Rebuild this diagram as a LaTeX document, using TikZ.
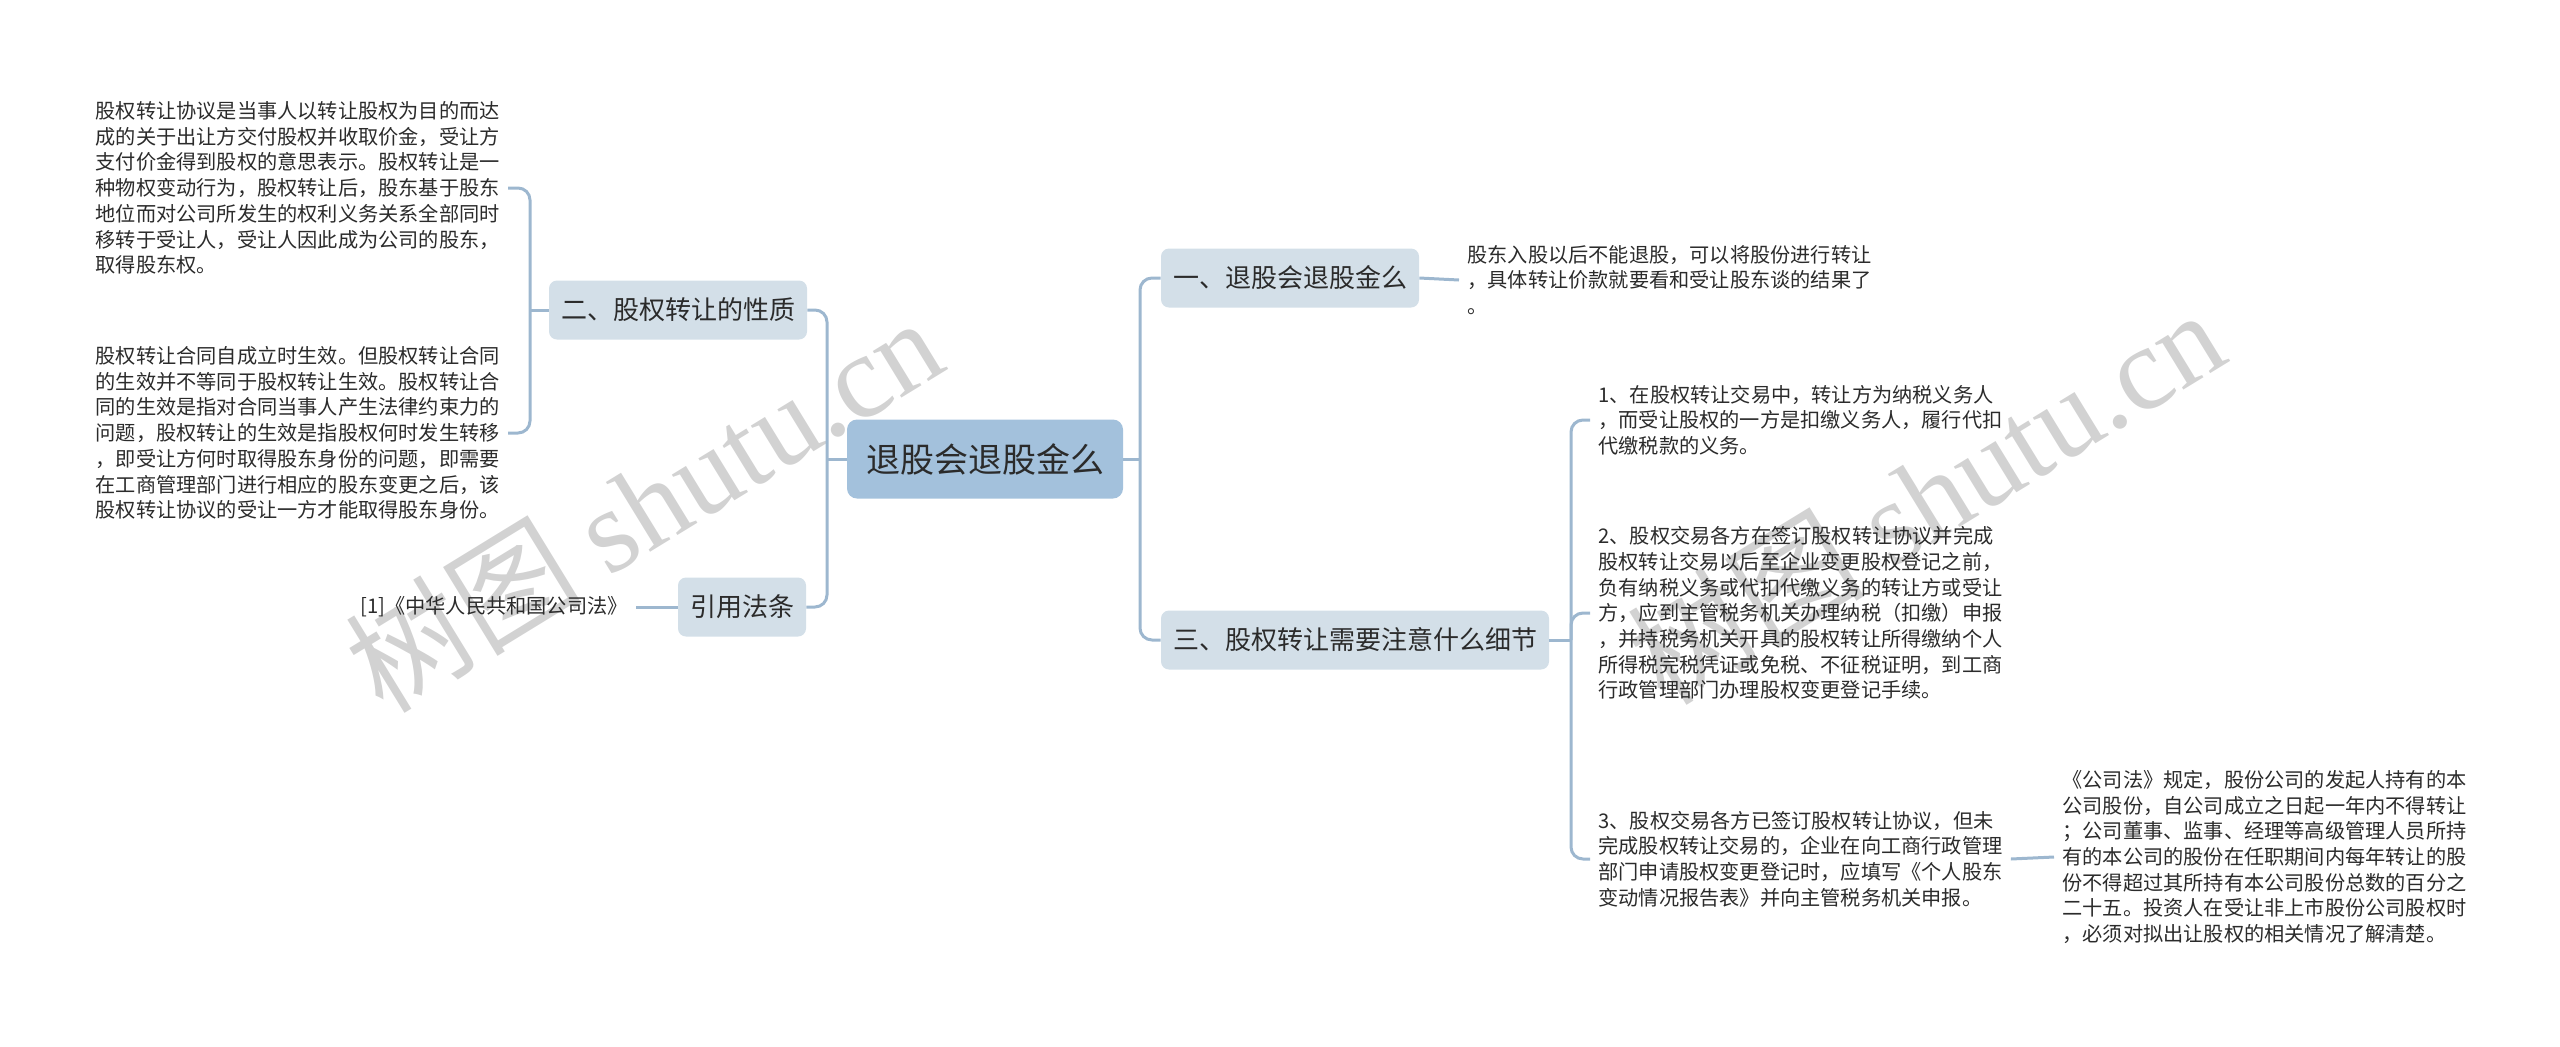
\documentclass[tikz,border=0pt]{standalone}
\usepackage{fontspec}
\setmainfont{Noto Sans CJK SC}
\newfontfamily\markfont{Liberation Serif}
\definecolor{mapink}{HTML}{2B2B2B}
\definecolor{maproot}{HTML}{A3C1DC}
\definecolor{mapbranch}{HTML}{D3DFE8}
\definecolor{mapline}{HTML}{9DB7CF}
\definecolor{mapmark}{HTML}{D2D2D2}

\begin{document}
\begin{tikzpicture}[
  x=0.5pt,
  y=-0.5pt,
  every node/.style={text=mapink},
  rootbox/.style={fill=maproot, rounded corners=5pt, inner xsep=9.5pt,
    minimum height=39.5pt, font=\fontsize{17}{20}\selectfont},
  branchbox/.style={fill=mapbranch, rounded corners=4pt, inner xsep=6pt,
    minimum height=29.5pt, font=\fontsize{13}{16}\selectfont},
  leaftext/.style={align=left, inner xsep=4pt, inner ysep=0pt,
    font=\fontsize{10.1}{12.85}\selectfont},
  link/.style={mapline, line width=1.5pt, rounded corners=6pt},
  watermark/.style={text=mapmark, rotate=31.5, anchor=base west, inner sep=0pt,
    font=\fontsize{59.5}{60}\selectfont}
]
\useasboundingbox (0,0) rectangle (2560,1046);

% =====================================================================
% watermark
% =====================================================================
\node[watermark] (markone) at (383,716) {树图 {\markfont shutu.cn}};
\node[watermark] (marktwo) at (1665,708) {树图 {\markfont shutu.cn}};

% =====================================================================
% root and branches
% =====================================================================
\node[rootbox] (root) at (985,459) {退股会退股金么};

\node[branchbox] (nature) at (678,310) {二、股权转让的性质};
\node[branchbox] (cite) at (742,607) {引用法条};
\node[branchbox] (refund) at (1290,278) {一、退股会退股金么};
\node[branchbox] (detail) at (1355,640) {三、股权转让需要注意什么细节};

\coordinate (lsplit) at (827,459);
\coordinate (rsplit) at (1140,459);
\draw[link] (nature.east) -| (lsplit) |- (cite.east);
\draw[link] (root.west) -- (lsplit);
\draw[link] (refund.west) -| (rsplit) |- (detail.west);
\draw[link] (root.east) -- (rsplit);

% =====================================================================
% left leaves
% =====================================================================
\node[leaftext, anchor=east] (natureone) at (508,188)
  {股权转让协议是当事人以转让股权为目的而达\\
   成的关于出让方交付股权并收取价金，受让方\\
   支付价金得到股权的意思表示。股权转让是一\\
   种物权变动行为，股权转让后，股东基于股东\\
   地位而对公司所发生的权利义务关系全部同时\\
   移转于受让人，受让人因此成为公司的股东，\\
   取得股东权。};
\node[leaftext, anchor=east] (naturetwo) at (508,433)
  {股权转让合同自成立时生效。但股权转让合同\\
   的生效并不等同于股权转让生效。股权转让合\\
   同的生效是指对合同当事人产生法律约束力的\\
   问题，股权转让的生效是指股权何时发生转移\\
   ，即受让方何时取得股东身份的问题，即需要\\
   在工商管理部门进行相应的股东变更之后，该\\
   股权转让协议的受让一方才能取得股东身份。};
\coordinate (nsplit) at (530,310);
\draw[link] (natureone.east) -| (nsplit) |- (naturetwo.east);
\draw[link] (nature.west) -- (nsplit);

\node[leaftext, anchor=east] (citelaw) at (636,607)
  {[1]《中华人民共和国公司法》};
\draw[link] (cite.west) -- (citelaw.east);

% =====================================================================
% right leaves
% =====================================================================
\node[leaftext, anchor=west] (refundnote) at (1459,280)
  {股东入股以后不能退股，可以将股份进行转让\\
   ，具体转让价款就要看和受让股东谈的结果了\\
   。};
\draw[link] (refund.east) -- (refundnote.west);

\node[leaftext, anchor=west] (detailone) at (1590,420)
  {1、在股权转让交易中，转让方为纳税义务人\\
   ，而受让股权的一方是扣缴义务人，履行代扣\\
   代缴税款的义务。};
\node[leaftext, anchor=west] (detailtwo) at (1590,613)
  {2、股权交易各方在签订股权转让协议并完成\\
   股权转让交易以后至企业变更股权登记之前，\\
   负有纳税义务或代扣代缴义务的转让方或受让\\
   方，应到主管税务机关办理纳税（扣缴）申报\\
   ，并持税务机关开具的股权转让所得缴纳个人\\
   所得税完税凭证或免税、不征税证明，到工商\\
   行政管理部门办理股权变更登记手续。};
\node[leaftext, anchor=west] (detailthree) at (1590,859)
  {3、股权交易各方已签订股权转让协议，但未\\
   完成股权转让交易的，企业在向工商行政管理\\
   部门申请股权变更登记时，应填写《个人股东\\
   变动情况报告表》并向主管税务机关申报。};
\coordinate (dsplit) at (1571,640);
\draw[link] (detailone.west) -| (dsplit) |- (detailthree.west);
\draw[link] (detail.east) -- (dsplit);
\draw[link] (dsplit) |- (detailtwo.west);

\node[leaftext, anchor=west] (companylaw) at (2054,857)
  {《公司法》规定，股份公司的发起人持有的本\\
   公司股份，自公司成立之日起一年内不得转让\\
   ；公司董事、监事、经理等高级管理人员所持\\
   有的本公司的股份在任职期间内每年转让的股\\
   份不得超过其所持有本公司股份总数的百分之\\
   二十五。投资人在受让非上市股份公司股权时\\
   ，必须对拟出让股权的相关情况了解清楚。};
\draw[link] (detailthree.east) -- (companylaw.west);

\end{tikzpicture}
\end{document}
